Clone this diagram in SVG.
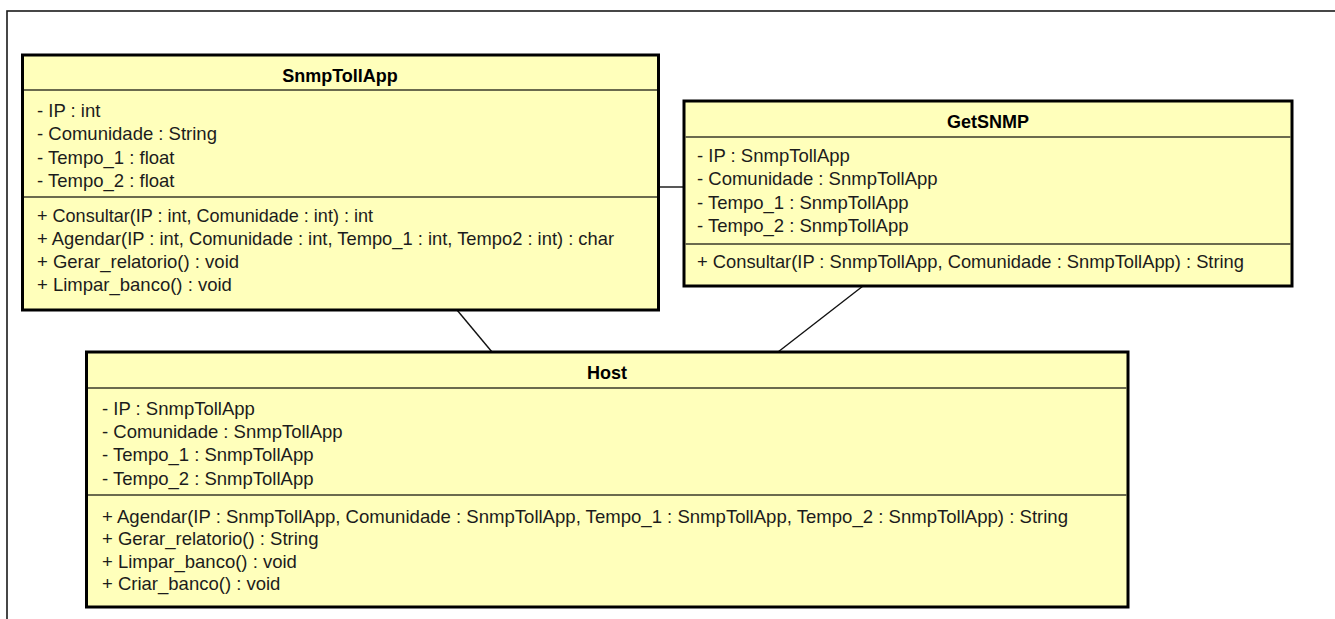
<svg xmlns="http://www.w3.org/2000/svg" width="1335" height="619" viewBox="0 0 1335 619">
  <style>
    .frame { fill: none; stroke: #1a1a1a; stroke-width: 1.6; }
    .box { fill: #FFFFBB; stroke: #000; stroke-width: 3; }
    .sep { stroke: #3a3a2a; stroke-width: 1.3; }
    .edge { stroke: #111; stroke-width: 1.4; fill: none; }
    text { font-family: "Liberation Sans", Arial, sans-serif; font-size: 18.5px; fill: #1c1c1c; }
    .title { font-weight: bold; font-size: 18px; fill: #000; text-anchor: middle; }
  </style>

  <!-- diagram frame, open towards the right and bottom -->
  <rect class="frame" x="7" y="11" width="1400" height="700"/>

  <!-- associations -->
  <g id="connectors">
    <line class="edge" x1="659" y1="187" x2="684" y2="187"/>
    <line class="edge" x1="457" y1="310" x2="492" y2="352"/>
    <line class="edge" x1="863" y1="286" x2="778" y2="352"/>
  </g>

  <g id="SnmpTollApp">
    <rect class="box" x="22.5" y="55" width="636" height="255"/>
    <line class="sep" x1="24" y1="90" x2="657" y2="90"/>
    <line class="sep" x1="24" y1="197" x2="657" y2="197"/>
    <text class="title" x="340" y="82">SnmpTollApp</text>
    <text x="37" y="116.5">- IP : int</text>
    <text x="37" y="140">- Comunidade : String</text>
    <text x="37" y="163.5">- Tempo_1 : float</text>
    <text x="37" y="187">- Tempo_2 : float</text>
    <text x="37" y="222" textLength="336" lengthAdjust="spacingAndGlyphs">+ Consultar(IP : int, Comunidade : int) : int</text>
    <text x="37" y="245" textLength="577" lengthAdjust="spacingAndGlyphs">+ Agendar(IP : int, Comunidade : int, Tempo_1 : int, Tempo2 : int) : char</text>
    <text x="37" y="268">+ Gerar_relatorio() : void</text>
    <text x="37" y="291">+ Limpar_banco() : void</text>
  </g>

  <g id="GetSNMP">
    <rect class="box" x="684" y="101" width="608" height="185"/>
    <line class="sep" x1="685.5" y1="137" x2="1290.5" y2="137"/>
    <line class="sep" x1="685.5" y1="244" x2="1290.5" y2="244"/>
    <text class="title" x="988" y="128">GetSNMP</text>
    <text x="697" y="161.5">- IP : SnmpTollApp</text>
    <text x="697" y="185">- Comunidade : SnmpTollApp</text>
    <text x="697" y="208.5">- Tempo_1 : SnmpTollApp</text>
    <text x="697" y="232">- Tempo_2 : SnmpTollApp</text>
    <text x="697" y="268" textLength="547" lengthAdjust="spacingAndGlyphs">+ Consultar(IP : SnmpTollApp, Comunidade : SnmpTollApp) : String</text>
  </g>

  <g id="Host">
    <rect class="box" x="86.5" y="352" width="1041.5" height="255"/>
    <line class="sep" x1="88" y1="388" x2="1126.5" y2="388"/>
    <line class="sep" x1="88" y1="495" x2="1126.5" y2="495"/>
    <text class="title" x="607" y="379">Host</text>
    <text x="102" y="415">- IP : SnmpTollApp</text>
    <text x="102" y="438">- Comunidade : SnmpTollApp</text>
    <text x="102" y="461">- Tempo_1 : SnmpTollApp</text>
    <text x="102" y="485">- Tempo_2 : SnmpTollApp</text>
    <text x="102" y="523" textLength="966" lengthAdjust="spacingAndGlyphs">+ Agendar(IP : SnmpTollApp, Comunidade : SnmpTollApp, Tempo_1 : SnmpTollApp, Tempo_2 : SnmpTollApp) : String</text>
    <text x="102" y="545">+ Gerar_relatorio() : String</text>
    <text x="102" y="568">+ Limpar_banco() : void</text>
    <text x="102" y="590">+ Criar_banco() : void</text>
  </g>
</svg>
